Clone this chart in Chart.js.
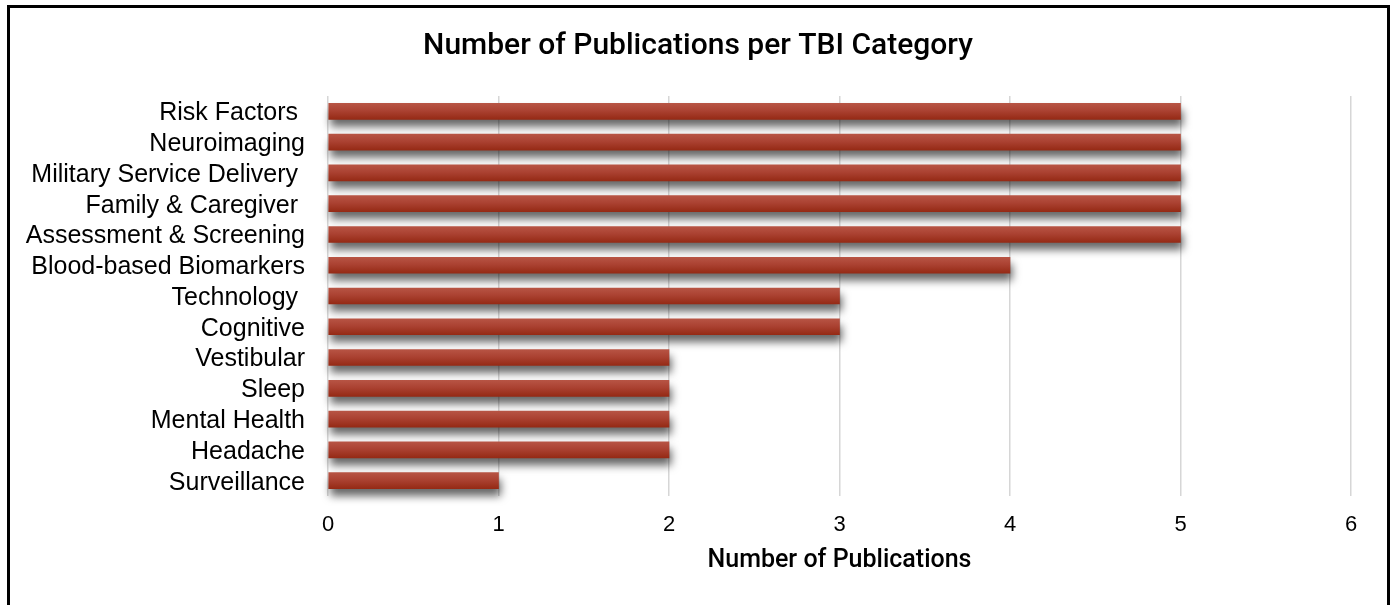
<!DOCTYPE html>
<html>
<head>
<meta charset="utf-8">
<script src="https://cdn.jsdelivr.net/npm/chart.js@4/dist/chart.umd.min.js"></script>
<style>
  html, body { margin: 0; padding: 0; background: #fff; overflow: hidden; }
  #wrap { position: relative; width: 1392px; height: 605px; }
  #frame { position: absolute; left: 7px; top: 5px; width: 1377px; height: 700px; border: 3px solid #000; pointer-events: none; }
  canvas { position: absolute; left: 0; top: 0; }
</style>
</head>
<body>
<div id="wrap">
  <canvas id="c" width="1392" height="605"></canvas>
  <div id="frame"></div>
</div>
<script>
const chartTitle = 'Number of Publications per TBI Category';
const axisTitle = 'Number of Publications';
const categories = [
  'Risk Factors ',
  'Neuroimaging',
  'Military Service Delivery ',
  'Family & Caregiver ',
  'Assessment & Screening',
  'Blood-based Biomarkers',
  'Technology ',
  'Cognitive',
  'Vestibular',
  'Sleep',
  'Mental Health',
  'Headache',
  'Surveillance'
];
const publications = [5, 5, 5, 5, 5, 4, 3, 3, 2, 2, 2, 2, 1];
const xTicks = [0, 1, 2, 3, 4, 5, 6];

const BAR_T = 16;
const FONT = '"Liberation Sans", Arial, sans-serif';
const TITLE_FONT = 'Roboto, "Liberation Sans", sans-serif';

const shadowPlugin = {
  id: 'barShadow',
  beforeDatasetsDraw(chart) {
    const ctx = chart.ctx;
    ctx.save();
    ctx.shadowColor = 'rgba(0,0,0,0.6)';
    ctx.shadowBlur = 9;
    ctx.shadowOffsetX = 2;
    ctx.shadowOffsetY = 7;
  },
  afterDatasetsDraw(chart) {
    chart.ctx.restore();
  }
};

const titlePlugin = {
  id: 'mainTitle',
  afterDraw(chart) {
    const ctx = chart.ctx;
    ctx.save();
    ctx.font = '500 30px ' + TITLE_FONT;
    ctx.fillStyle = '#000';
    ctx.textAlign = 'center';
    ctx.textBaseline = 'middle';
    ctx.fillText(chartTitle, 698, 46);
    ctx.restore();
  }
};

function barGradient(context) {
  const chart = context.chart;
  const yScale = chart.scales.y;
  if (!yScale || context.dataIndex === undefined) return '#a83a28';
  const yc = yScale.getPixelForValue(context.dataIndex);
  if (!isFinite(yc)) return '#a83a28';
  const g = chart.ctx.createLinearGradient(0, yc - BAR_T / 2, 0, yc + BAR_T / 2);
  g.addColorStop(0, '#b75444');
  g.addColorStop(0.45, '#ab4232');
  g.addColorStop(1, '#952a15');
  return g;
}

new Chart(document.getElementById('c'), {
  type: 'bar',
  data: {
    labels: categories,
    datasets: [{
      data: publications,
      backgroundColor: barGradient,
      borderWidth: 0,
      barThickness: BAR_T,
      clip: false
    }]
  },
  options: {
    indexAxis: 'y',
    responsive: false,
    animation: false,
    devicePixelRatio: 1,
    layout: { padding: { top: 96, right: 41, bottom: 0, left: 0 } },
    plugins: {
      legend: { display: false },
      title: { display: false },
      tooltip: { enabled: false }
    },
    scales: {
      x: {
        min: 0,
        max: 6,
        afterBuildTicks(scale) { scale.ticks = xTicks.map(v => ({ value: v })); },
        afterFit(scale) { scale.height = 109; },
        grid: { color: '#d6d6d6', lineWidth: 1.5, drawTicks: false },
        border: { display: false },
        ticks: { font: { family: FONT, size: 22 }, color: '#000', padding: 16 },
        title: {
          display: true,
          text: axisTitle,
          font: { family: TITLE_FONT, size: 25, weight: '500' },
          color: '#000',
          padding: { top: 0, bottom: 29 }
        }
      },
      y: {
        afterFit(scale) { scale.width = 328; },
        grid: { display: false, drawTicks: false },
        border: { display: false },
        ticks: { font: { family: FONT, size: 25 }, color: '#000', padding: 23, autoSkip: false, labelOffset: 2 }
      }
    }
  },
  plugins: [shadowPlugin, titlePlugin]
});
</script>
</body>
</html>
